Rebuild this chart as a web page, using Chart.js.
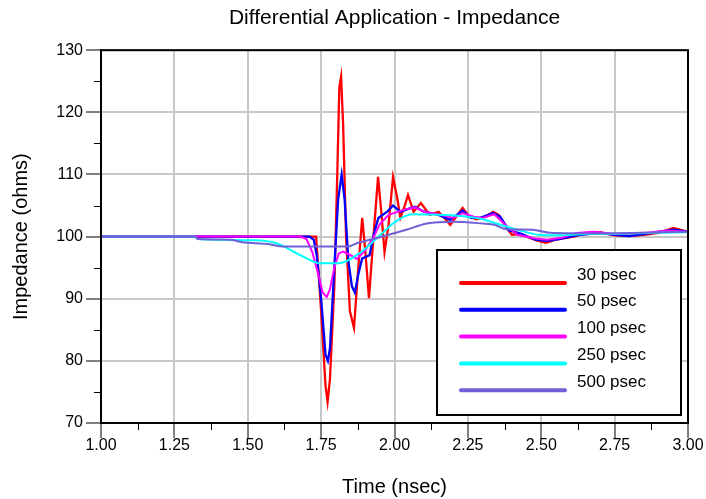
<!DOCTYPE html>
<html>
<head>
<meta charset="utf-8">
<title>Differential Application - Impedance</title>
<script src="https://cdn.jsdelivr.net/npm/chart.js@4.4.1/dist/chart.umd.min.js"></script>
<style>
  html, body { margin: 0; padding: 0; background: #fff; }
</style>
</head>
<body>
<canvas id="impChart" width="706" height="499"></canvas>
<script>
// ----------------------------------------------------
// Values (time in nsec, impedance in ohms)
// ----------------------------------------------------
const seriesLabels = ['30 psec', '50 psec', '100 psec', '250 psec', '500 psec'];
const seriesColors = ['#ff0000', '#0000ff', '#ff00ff', '#00ffff', '#7060d8'];

const xTicks = [1.00, 1.25, 1.50, 1.75, 2.00, 2.25, 2.50, 2.75, 3.00];
const yTicks = [70, 80, 90, 100, 110, 120, 130];

const t30 = [1.00, 1.70, 1.733, 1.75, 1.765, 1.772, 1.78, 1.795, 1.805, 1.812, 1.818, 1.825, 1.835, 1.848, 1.862, 1.875, 1.89, 1.90, 1.913, 1.93, 1.944, 1.955, 1.966, 1.98, 1.995, 2.01, 2.02, 2.035, 2.046, 2.065, 2.09, 2.12, 2.15, 2.17, 2.19, 2.215, 2.232, 2.255, 2.28, 2.31, 2.336, 2.355, 2.38, 2.40, 2.42, 2.45, 2.484, 2.516, 2.55, 2.61, 2.65, 2.70, 2.75, 2.80, 2.85, 2.90, 2.95, 2.975, 3.00];
const z30 = [100, 100, 100, 88, 76, 73.4, 77, 92, 110, 124, 125.7, 118, 100, 88, 85.3, 94, 103, 98, 90.1, 101, 109.6, 104, 97.5, 102, 109.6, 106, 103, 105, 106.7, 104, 105.4, 103.5, 104, 103, 101.9, 103.5, 104.6, 103.2, 102.8, 103.2, 104, 103.5, 101.5, 100.3, 100.4, 100, 99.4, 99, 99.5, 100, 100.6, 100.7, 100.2, 100.1, 100.3, 100.6, 101.4, 101.1, 100.8];

const t50 = [1.00, 1.71, 1.725, 1.735, 1.75, 1.765, 1.773, 1.78, 1.795, 1.808, 1.82, 1.83, 1.843, 1.855, 1.865, 1.877, 1.89, 1.915, 1.93, 1.945, 1.975, 1.995, 2.02, 2.05, 2.07, 2.10, 2.15, 2.19, 2.232, 2.26, 2.29, 2.336, 2.36, 2.39, 2.43, 2.48, 2.52, 2.56, 2.62, 2.70, 2.75, 2.80, 2.85, 2.92, 2.95, 3.00];
const z50 = [100, 100, 99.5, 97, 90, 81, 80, 82, 95, 106, 110, 106, 96, 92, 91, 94, 96.5, 97, 100.5, 103, 104, 105, 104, 104.5, 104.8, 104, 103.5, 102.7, 104.2, 103, 103, 103.8, 103.2, 101, 100.5, 99.5, 99.3, 99.6, 100.2, 100.6, 100.3, 100.1, 100.4, 100.9, 101.1, 100.8];

const t100 = [1.00, 1.68, 1.70, 1.72, 1.74, 1.755, 1.769, 1.78, 1.795, 1.81, 1.825, 1.85, 1.872, 1.90, 1.93, 1.95, 1.98, 2.03, 2.07, 2.10, 2.15, 2.20, 2.232, 2.27, 2.30, 2.34, 2.38, 2.42, 2.48, 2.52, 2.57, 2.62, 2.68, 2.75, 2.85, 2.93, 3.00];
const z100 = [100, 100, 99.6, 97.5, 94, 91, 90.3, 91.5, 95, 97.3, 97.6, 97, 96.4, 97.8, 100, 102, 103.5, 104.3, 104.7, 104, 103.6, 103, 103.8, 103.2, 103, 103.6, 101.8, 100.3, 99.7, 99.5, 99.8, 100.6, 100.8, 100.4, 100.6, 101, 100.8];

const t250 = [1.00, 1.32, 1.33, 1.52, 1.60, 1.68, 1.746, 1.81, 1.88, 1.95, 2.00, 2.06, 2.15, 2.25, 2.30, 2.36, 2.42, 2.49, 2.55, 2.65, 2.80, 2.90, 3.00];
const z250 = [100, 100, 99.6, 99.4, 98.9, 97, 95.7, 95.7, 97.3, 100.2, 102.3, 103.6, 103.5, 103.2, 102.8, 101.9, 101.1, 100.3, 100.2, 100.4, 100.5, 100.6, 100.7];

const t500 = [1.00, 1.32, 1.33, 1.44, 1.48, 1.57, 1.62, 1.84, 1.87, 1.95, 2.04, 2.11, 2.20, 2.30, 2.34, 2.38, 2.47, 2.53, 2.70, 2.85, 3.00];
const z500 = [100, 100, 99.6, 99.5, 99.1, 98.8, 98.4, 98.4, 98.9, 99.9, 101.1, 102.1, 102.4, 102.1, 101.9, 101.2, 101.1, 100.6, 100.5, 100.6, 100.8];

const seriesTimes = [t30, t50, t100, t250, t500];
const seriesValues = [z30, z50, z100, z250, z500];

const FONT = '"Liberation Sans", Arial, sans-serif';

// Pair up the time / value arrays into {x, y} points for the linear x scale
const datasets = seriesLabels.map((label, i) => ({
    label: label,
    data: seriesTimes[i].map((t, k) => ({ x: t, y: seriesValues[i][k] })),
    borderColor: seriesColors[i],
    backgroundColor: seriesColors[i],
    borderWidth: i < 2 ? 2.3 : 2,
    pointRadius: 0,
    tension: 0,
    cubicInterpolationMode: i >= 3 ? 'monotone' : 'default',
    // later series sit on top, like the reference
    order: seriesLabels.length - i
}));

// ----------------------------------------------------
// Frame, outward minor ticks and the boxed legend inside the plot
// ----------------------------------------------------
const frameLegendPlugin = {
    id: 'frameLegend',
    afterDraw(chart) {
        const { ctx, chartArea: a, scales: { x, y } } = chart;
        ctx.save();

        // minor ticks halfway between the labelled ones, pointing outward
        ctx.strokeStyle = '#000';
        ctx.lineWidth = 1;
        ctx.beginPath();
        for (let i = 0; i < xTicks.length - 1; i++) {
            const px = Math.round(x.getPixelForValue((xTicks[i] + xTicks[i + 1]) / 2)) + 0.5;
            ctx.moveTo(px, a.bottom);
            ctx.lineTo(px, a.bottom + 7);
        }
        for (let i = 0; i < yTicks.length - 1; i++) {
            const py = Math.round(y.getPixelForValue((yTicks[i] + yTicks[i + 1]) / 2)) + 0.5;
            ctx.moveTo(a.left, py);
            ctx.lineTo(a.left - 7, py);
        }
        ctx.stroke();

        // black frame around the plot area
        ctx.lineWidth = 2;
        ctx.strokeRect(a.left, a.top, a.right - a.left, a.bottom - a.top);

        // legend box anchored to the lower right corner of the plot
        const boxW = 244, boxH = 165;
        const bx = a.right - 7 - boxW;
        const by = a.bottom - 8 - boxH;
        ctx.fillStyle = '#fff';
        ctx.fillRect(bx, by, boxW, boxH);
        ctx.strokeRect(bx, by, boxW, boxH);

        ctx.font = '17px ' + FONT;
        ctx.textBaseline = 'middle';
        ctx.textAlign = 'left';
        chart.data.datasets.forEach((ds, i) => {
            const ly = by + 33 + i * 26.8;
            ctx.strokeStyle = ds.borderColor;
            ctx.lineWidth = 4;
            ctx.lineCap = 'round';
            ctx.beginPath();
            ctx.moveTo(bx + 24, ly);
            ctx.lineTo(bx + 128, ly);
            ctx.stroke();
            ctx.fillStyle = '#000';
            ctx.fillText(ds.label, bx + 140, ly - 8);
        });
        ctx.restore();
    }
};

const impCtx = document.getElementById('impChart').getContext('2d');
new Chart(impCtx, {
    type: 'line',
    data: { datasets: datasets },
    options: {
        responsive: false,
        animation: false,
        devicePixelRatio: 1,
        layout: { padding: { left: 0, right: 18, top: 0, bottom: 0 } },
        plugins: {
            legend: { display: false },
            tooltip: { enabled: false },
            title: {
                display: true,
                text: 'Differential Application - Impedance',
                color: '#000',
                fullSize: false,
                font: { family: FONT, size: 21, weight: 'normal' },
                padding: { top: 6, bottom: 19 }
            }
        },
        scales: {
            x: {
                type: 'linear',
                min: 1,
                max: 3,
                afterBuildTicks: (scale) => { scale.ticks = xTicks.map(v => ({ value: v })); },
                afterFit: (scale) => { scale.height = 76; },
                ticks: {
                    color: '#000',
                    font: { family: FONT, size: 16 },
                    padding: -2,
                    maxRotation: 0,
                    autoSkip: false,
                    callback: (v) => Number(v).toFixed(2)
                },
                grid: { color: '#c8c8c8', lineWidth: 2, tickColor: '#000', tickWidth: 1, tickLength: 15 },
                border: { color: '#000', width: 2 },
                title: {
                    display: true,
                    text: 'Time (nsec)',
                    color: '#000',
                    font: { family: FONT, size: 20 },
                    padding: { top: 0, bottom: 0 }
                }
            },
            y: {
                min: 70,
                max: 130,
                afterBuildTicks: (scale) => { scale.ticks = yTicks.map(v => ({ value: v })); },
                afterFit: (scale) => { scale.width = 101; },
                ticks: {
                    color: '#000',
                    font: { family: FONT, size: 16 },
                    padding: 3
                },
                grid: { color: '#c8c8c8', lineWidth: 2, tickColor: '#000', tickWidth: 1, tickLength: 15 },
                border: { color: '#000', width: 2 },
                title: {
                    display: true,
                    text: 'Impedance (ohms)',
                    color: '#000',
                    font: { family: FONT, size: 20 },
                    padding: { top: 9, bottom: 0 }
                }
            }
        }
    },
    plugins: [frameLegendPlugin]
});
</script>
</body>
</html>
